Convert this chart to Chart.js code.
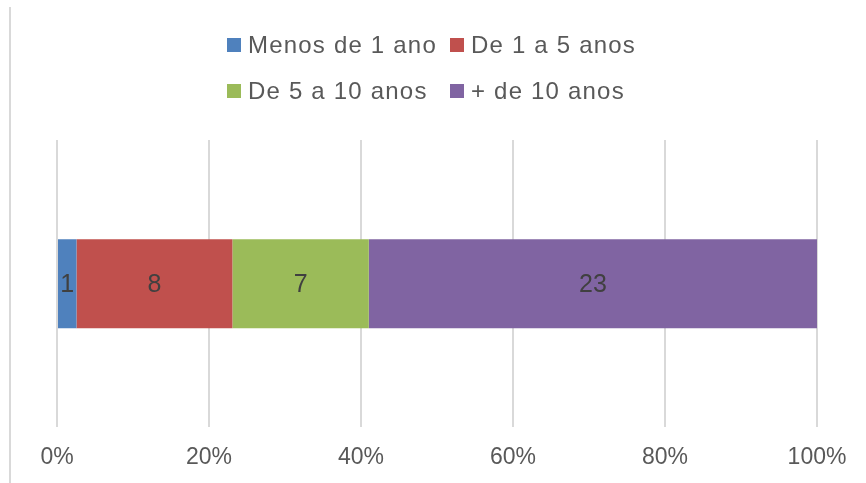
<!DOCTYPE html>
<html>
<head>
<meta charset="utf-8">
<script src="https://cdn.jsdelivr.net/npm/chart.js@4/dist/chart.umd.min.js"></script>
<style>
  html, body { margin: 0; padding: 0; background: #fff; }
  #wrap { position: relative; width: 866px; height: 483px; overflow: hidden; }
  #frame { position: absolute; left: 9px; top: 7px; width: 2px; height: 476px; background: #d9d9d9; }
  #legend { position: absolute; left: 227px; top: 22px; display: grid; grid-template-columns: 223px auto; grid-auto-rows: 46px;
            font-family: "Liberation Sans", Arial, sans-serif; font-size: 24px; letter-spacing: 1.2px; color: #595959; }
  .item { display: flex; align-items: center; white-space: nowrap; }
  .box { width: 14px; height: 14px; margin-right: 7px; flex: none; }
  canvas { position: absolute; left: 0; top: 0; }
</style>
</head>
<body>
<div id="wrap">
  <canvas id="c" width="866" height="483"></canvas>
  <div id="frame"></div>
  <div id="legend"></div>
</div>
<script>
const categories = [""];
const seriesNames = ["Menos de 1 ano", "De 1 a 5 anos", "De 5 a 10 anos", "+ de 10 anos"];
const seriesCounts = [1, 8, 7, 23];
const seriesColors = ["#4F81BD", "#C0504D", "#9BBB59", "#8064A2"];
const tickLabels = ["0%", "20%", "40%", "60%", "80%", "100%"];

const total = seriesCounts.reduce((a, b) => a + b, 0);

const legend = document.getElementById('legend');
seriesNames.forEach((name, i) => {
  const it = document.createElement('div');
  it.className = 'item';
  const b = document.createElement('span');
  b.className = 'box';
  b.style.background = seriesColors[i];
  const t = document.createElement('span');
  t.textContent = name;
  it.appendChild(b); it.appendChild(t);
  legend.appendChild(it);
});

const valueLabels = {
  id: 'valueLabels',
  afterDatasetsDraw(chart) {
    const ctx = chart.ctx;
    ctx.save();
    ctx.font = '25px "Liberation Sans", Arial, sans-serif';
    ctx.fillStyle = '#404040';
    ctx.textAlign = 'center';
    ctx.textBaseline = 'middle';
    chart.data.datasets.forEach((ds, di) => {
      const meta = chart.getDatasetMeta(di);
      meta.data.forEach((el, j) => {
        const p = el.getCenterPoint();
        ctx.fillText(String(ds.counts[j]), p.x, p.y + 1);
      });
    });
    ctx.restore();
  }
};

Chart.defaults.font.family = '"Liberation Sans", Arial, sans-serif';

new Chart(document.getElementById('c'), {
  type: 'bar',
  data: {
    labels: categories,
    datasets: seriesNames.map((name, i) => ({
      label: name,
      data: [seriesCounts[i] / total * 100],
      counts: [seriesCounts[i]],
      backgroundColor: seriesColors[i],
      borderWidth: 0,
      categoryPercentage: 1,
      barPercentage: 0.31
    }))
  },
  options: {
    indexAxis: 'y',
    responsive: false,
    animation: false,
    layout: { padding: { top: 140, left: 57, right: 49, bottom: -4 } },
    plugins: { legend: { display: false }, tooltip: { enabled: false } },
    scales: {
      x: {
        stacked: true,
        min: 0, max: 100,
        border: { display: false },
        grid: { color: '#d9d9d9', lineWidth: 2, drawTicks: false },
        ticks: {
          stepSize: 20,
          padding: 16,
          color: '#595959',
          font: { size: 23 },
          callback: (v, i) => tickLabels[i]
        }
      },
      y: { stacked: true, display: false }
    }
  },
  plugins: [valueLabels]
});
</script>
</body>
</html>
